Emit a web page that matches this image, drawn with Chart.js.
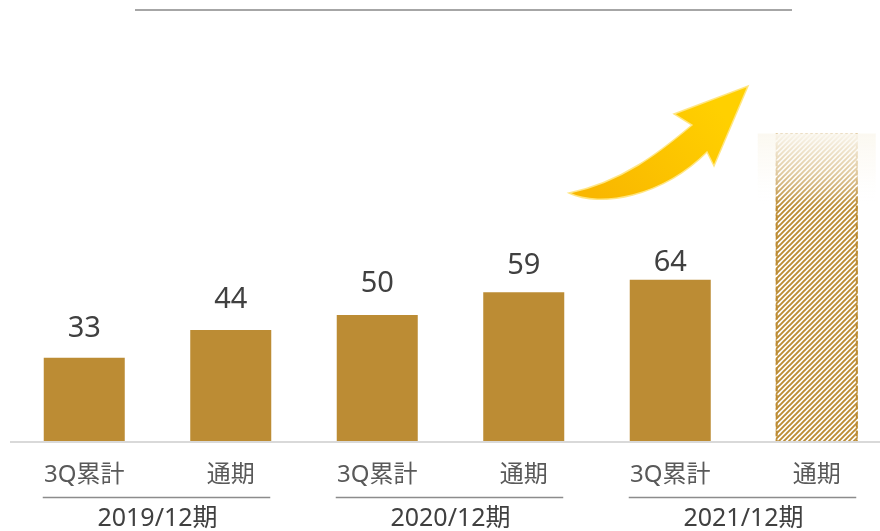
<!DOCTYPE html>
<html>
<head>
<meta charset="utf-8">
<script src="https://cdn.jsdelivr.net/npm/chart.js@4"></script>
<style>
  body { margin: 0; background: #fff; overflow: hidden; }
  #wrap { width: 880px; height: 531px; overflow: hidden; position: relative; }
  #inner { width: 890px; height: 531px; position: relative; }
</style>
</head>
<body>
<div id="wrap"><div id="inner"><canvas id="salesChart"></canvas></div></div>
<script>
const categories = ['3Q累計', '通期', '3Q累計', '通期', '3Q累計', '通期'];
const periods = ['2019/12期', '2020/12期', '2021/12期'];
const actualValues = [33, 44, 50, 59, 64, null];
const forecastValues = [null, null, null, null, null, 122];
// gap between bar top and its value label (px)
const labelGaps = [21, 22, 23, 18, 9, 0];

const BAR_COLOR = '#BC8C34';
const FONT = "'Noto Sans', 'Noto Sans CJK JP', sans-serif";

// diagonal hatch for the forecast bar
function makeHatch(color) {
    const c = document.createElement('canvas');
    c.width = 5;
    c.height = 5;
    const g = c.getContext('2d');
    g.strokeStyle = color;
    g.lineWidth = 1.9;
    g.beginPath();
    g.moveTo(0, 5); g.lineTo(5, 0);
    g.moveTo(-2.5, 2.5); g.lineTo(2.5, -2.5);
    g.moveTo(2.5, 7.5); g.lineTo(7.5, 2.5);
    g.stroke();
    return g.createPattern(c, 'repeat');
}

const decorations = {
    id: 'decorations',
    beforeDatasetsDraw(chart) {
        const { ctx, chartArea } = chart;
        ctx.save();
        // baseline
        ctx.strokeStyle = '#d9d9d9';
        ctx.lineWidth = 2;
        ctx.beginPath();
        ctx.moveTo(chartArea.left - 1, chartArea.bottom + 1);
        ctx.lineTo(chartArea.right, chartArea.bottom + 1);
        ctx.stroke();
        // top rule
        ctx.strokeStyle = '#a6a6a6';
        ctx.beginPath();
        ctx.moveTo(135, 10);
        ctx.lineTo(792, 10);
        ctx.stroke();
        ctx.restore();
    },
    afterDatasetsDraw(chart) {
        const { ctx, chartArea } = chart;
        const x = chart.scales.x;
        ctx.save();

        // forecast bar: dashed outline and faded top
        const fMeta = chart.getDatasetMeta(1);
        fMeta.data.forEach((el, i) => {
            if (forecastValues[i] == null) return;
            const half = el.width / 2;
            ctx.strokeStyle = BAR_COLOR;
            ctx.lineWidth = 2;
            ctx.setLineDash([6, 3]);
            ctx.beginPath();
            ctx.moveTo(el.x - half + 1, el.y);
            ctx.lineTo(el.x - half + 1, el.base);
            ctx.moveTo(el.x + half - 1, el.y);
            ctx.lineTo(el.x + half - 1, el.base);
            ctx.stroke();
            ctx.setLineDash([]);
            const grad = ctx.createLinearGradient(0, el.y, 0, el.y + 72);
            grad.addColorStop(0, 'rgba(251,248,240,0.97)');
            grad.addColorStop(0.55, 'rgba(253,251,246,0.55)');
            grad.addColorStop(1, 'rgba(255,255,255,0)');
            ctx.fillStyle = grad;
            ctx.fillRect(el.x - half - 18, el.y, el.width + 36, 72);
        });

        // value labels
        ctx.fillStyle = '#404040';
        ctx.font = '29px ' + FONT;
        ctx.textAlign = 'center';
        ctx.textBaseline = 'alphabetic';
        chart.getDatasetMeta(0).data.forEach((el, i) => {
            if (actualValues[i] == null) return;
            ctx.fillText(String(actualValues[i]), el.x, el.y - labelGaps[i]);
        });

        // category labels
        ctx.fillStyle = '#595959';
        ctx.font = '24px ' + FONT;
        ctx.textBaseline = 'middle';
        categories.forEach((c, i) => {
            ctx.fillText(c, x.getPixelForValue(i), chartArea.bottom + 34);
        });

        // period groups
        const meta = chart.getDatasetMeta(0);
        periods.forEach((p, g) => {
            const a = meta.data[g * 2];
            const b = meta.data[g * 2 + 1];
            const left = a.x - a.width / 2 - 1;
            const right = b.x + b.width / 2 - 1;
            ctx.strokeStyle = '#8c8c8c';
            ctx.lineWidth = 1.5;
            ctx.beginPath();
            ctx.moveTo(left, chartArea.bottom + 56.5);
            ctx.lineTo(right, chartArea.bottom + 56.5);
            ctx.stroke();
            ctx.fillStyle = '#404040';
            ctx.font = '25px ' + FONT;
            ctx.fillText(p, (a.x + b.x) / 2, chartArea.bottom + 78);
        });

        // rising arrow
        const ag = ctx.createLinearGradient(600, 200, 720, 110);
        ag.addColorStop(0, '#F9B700');
        ag.addColorStop(1, '#FFD000');
        ctx.fillStyle = ag;
        ctx.beginPath();
        ctx.moveTo(569, 193);
        ctx.bezierCurveTo(600, 208, 662, 197, 707, 152);
        ctx.lineTo(714, 166);
        ctx.lineTo(748, 86);
        ctx.lineTo(674, 114);
        ctx.lineTo(692, 125);
        ctx.bezierCurveTo(660, 152, 622, 182, 569, 193);
        ctx.closePath();
        ctx.fill();
        ctx.strokeStyle = 'rgba(255,230,130,0.95)';
        ctx.lineWidth = 1.5;
        ctx.stroke();

        ctx.restore();
    }
};

new Chart(document.getElementById('salesChart').getContext('2d'), {
    type: 'bar',
    data: {
        labels: categories,
        datasets: [{
            label: '実績',
            data: actualValues,
            backgroundColor: BAR_COLOR,
            barPercentage: 0.553,
            categoryPercentage: 1.0
        }, {
            label: '予想',
            data: forecastValues,
            backgroundColor: makeHatch(BAR_COLOR),
            barPercentage: 0.56,
            categoryPercentage: 1.0
        }]
    },
    options: {
        responsive: true,
        maintainAspectRatio: false,
        animation: false,
        layout: { padding: { left: 11, right: 0, top: 10, bottom: 90 } },
        plugins: {
            legend: { display: false },
            tooltip: { enabled: false }
        },
        scales: {
            x: { stacked: true, display: false },
            y: { stacked: true, display: false, min: 0, max: 171 }
        }
    },
    plugins: [decorations]
});
</script>
</body>
</html>
